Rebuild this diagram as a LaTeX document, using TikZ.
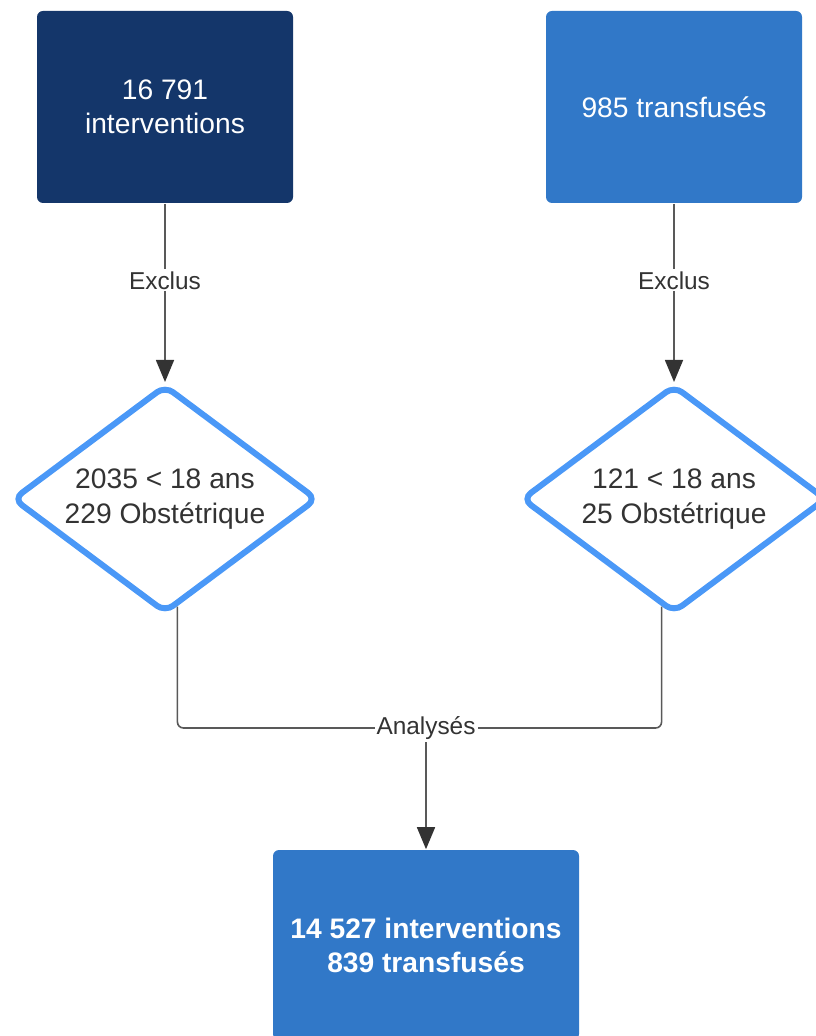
\documentclass[tikz,border=0pt]{standalone}
\usepackage{fontspec}
\setmainfont{Liberation Sans}
\usetikzlibrary{shapes.geometric,arrows.meta,positioning,calc}

\definecolor{navy}{HTML}{14366A}
\definecolor{mblue}{HTML}{3178C8}
\definecolor{lblue}{HTML}{4A98F7}
\definecolor{lgray}{HTML}{595959}
\definecolor{tgray}{HTML}{333333}

\begin{document}
\begin{tikzpicture}[x=0.5pt,y=-0.5pt,-,>={Triangle[width=9pt,length=11pt,color=tgray]},thick,
    box node/.style={rectangle,rounded corners=3pt,minimum width=128pt,minimum height=96pt,text=white,align=center,font=\fontsize{14.1}{17}\selectfont},
    test node/.style={diamond,aspect=1.35,draw=lblue,line width=3pt,rounded corners=5pt,fill=white,inner sep=0pt,minimum width=152.5pt,minimum height=114pt,text=tgray,align=center,font=\fontsize{14.1}{17.5}\selectfont},
    lab node/.style={fill=white,text=tgray,inner sep=1pt,font=\fontsize{12.2}{14}\selectfont}]
            \useasboundingbox (0,0) rectangle (815,1036);

            \node[box node, fill=navy] (0) at (165,107) {16 791\\interventions};
            \node[box node, fill=mblue] (1) at (674,107) {985 transfusés};
            \node[test node] (2) at (165,499) {2035 < 18 ans\\229 Obstétrique};
            \node[test node] (3) at (674,499) {121 < 18 ans\\25 Obstétrique};
            \node[box node, fill=mblue, minimum width=153pt, minimum height=95pt, font=\fontsize{14.1}{17}\selectfont\bfseries] (4) at (426,945) {14 527 interventions\\839 transfusés};

            \path[draw=lgray, ->, every node/.style={lab node}]
                (0) edge node[pos=0.43] {Exclus} (2)
                (1) edge node[pos=0.43] {Exclus} (3)
                ;

            \coordinate (5) at (426,728);
            \draw[lgray, rounded corners=3pt] ($(2.south)!0.08!(2.east)$) |- (5) -| ($(3.south)!0.08!(3.west)$);
            \node[lab node] (6) at (5) {Analysés};
            \draw[lgray, ->] (6) -- (4);
        \end{tikzpicture}
\end{document}
